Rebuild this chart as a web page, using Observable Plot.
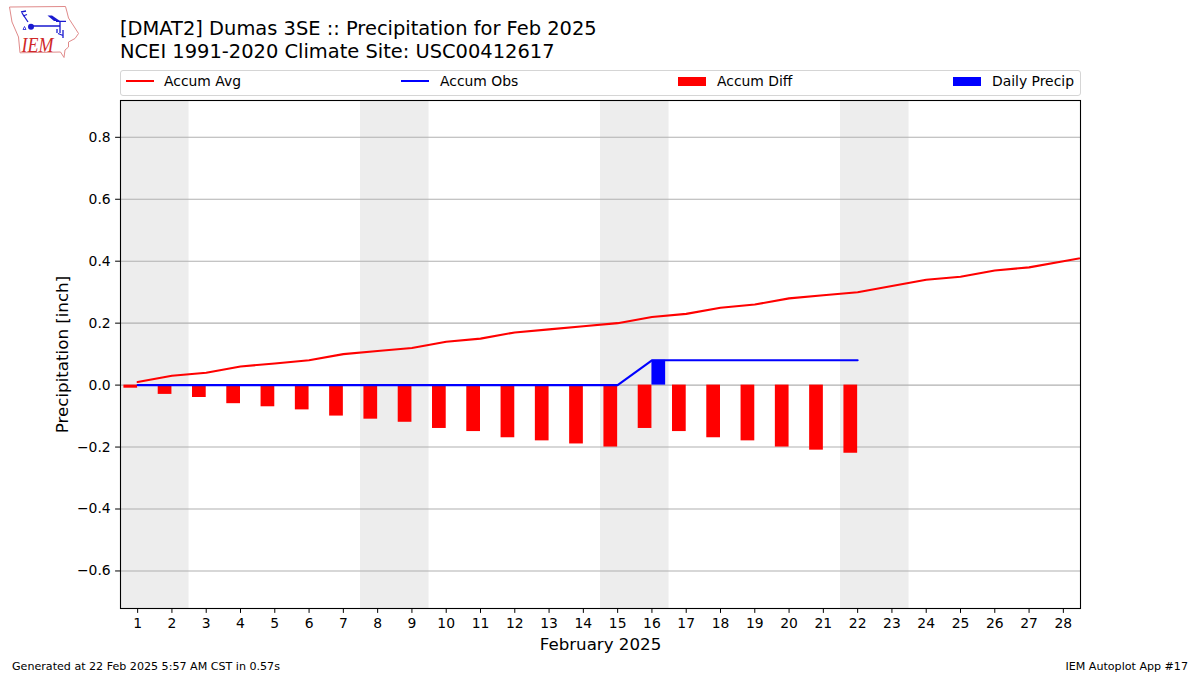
<!DOCTYPE html>
<html><head><meta charset="utf-8">
<script src="https://cdn.jsdelivr.net/npm/d3@7"></script>
<script src="https://cdn.jsdelivr.net/npm/@observablehq/plot@0.6"></script>
<style>
html,body{margin:0;padding:0;background:#fff;overflow:hidden}
body{width:1200px;height:675px;position:relative;font-family:"DejaVu Sans",sans-serif;color:#000}
#chart{position:absolute;left:0;top:0}
.abs{position:absolute;white-space:nowrap}
#title{left:120px;top:18px;font-size:19.45px;line-height:22.500px}
#legend{left:120px;top:70px;width:959px;height:24px;border:1px solid #d5d5d5;border-radius:3px;background:#fff}
.lt{font-size:13.9px;line-height:16px}
.ln{height:2px}.pt{height:9px}
.foot{font-size:11.1px;line-height:13px;top:660px}
</style></head><body>
<div id="chart"></div>
<svg class="abs" style="left:0;top:0" width="90" height="62">
  <path d="M9.500 7L65.500 6.500L67 12L68.500 18L75 28L78.500 33.500L75 38.500L68.500 42L68.500 47L65 50L64 57.500L60.500 52L20 52.800L18.500 37L12 22L10.500 13Z" fill="none" stroke="#e08a8a" stroke-width="1"/>
  <g stroke="#1a1ad0" fill="#1a1ad0">
    <path d="M31 26H60M56 21.300H66M60 21V33M22 13L28 22M21 12L26 11M23 16L27 14.500" fill="none" stroke-width="1.300"/>
    <path d="M47.500 15.500L52 15.500L60 21L54 21Z" stroke="none"/>
    <circle cx="31" cy="26.700" r="3" stroke="none"/>
    <path d="M57 29V33M63 30V38M58 33.500L63 35.500" fill="none" stroke-width="1.300"/>
    <path d="M23 29.500l1.500 -3l1.500 3Z" fill="none" stroke-width="0.800"/>
  </g>
  <text x="21.500" y="52" textLength="32" lengthAdjust="spacingAndGlyphs" font-family="Liberation Serif" font-style="italic" font-size="21" fill="#d02828">IEM</text>
</svg>
<div id="title" class="abs">[DMAT2] Dumas 3SE :: Precipitation for Feb 2025<br>NCEI 1991-2020 Climate Site: USC00412617</div>
<div id="legend" class="abs"></div>
<div class="abs foot" style="left:12px">Generated at 22 Feb 2025 5:57 AM CST in 0.57s</div>
<div class="abs foot" style="right:12px">IEM Autoplot App #17</div>
<script>
const days = d3.range(1, 29);
const accumAvg = [0.01,0.03,0.04,0.06,0.07,0.08,0.10,0.11,0.12,0.14,0.15,0.17,0.18,0.19,0.20,0.22,0.23,0.25,0.26,0.28,0.29,0.30,0.32,0.34,0.35,0.37,0.38,0.40,0.42];
const avgDays = [...days, 29];
const obsDays = days.slice(0, 22);
const accumObs = [0,0,0,0,0,0,0,0,0,0,0,0,0,0,0,0.08,0.08,0.08,0.08,0.08,0.08,0.08];
const accumDiff = [-0.01,-0.03,-0.04,-0.06,-0.07,-0.08,-0.10,-0.11,-0.12,-0.14,-0.15,-0.17,-0.18,-0.19,-0.20,-0.14,-0.15,-0.17,-0.18,-0.20,-0.21,-0.22];
const dailyDay = [16];
const dailyPrecip = [0.08];
const weekends = [[0.5,2.5],[7.5,9.5],[14.5,16.5],[21.5,23.5]];
const yTicks = [-0.6,-0.4,-0.2,0,0.2,0.4,0.6,0.8];
const yDomain = [-0.7212,0.9188];

const avgRows = avgDays.map((d,i)=>({d,v:accumAvg[i]}));
const obsRows = obsDays.map((d,i)=>({d,v:accumObs[i]}));
const diffRows = obsDays.map((d,i)=>({d,v:accumDiff[i]}));
const dailyRows = dailyDay.map((d,i)=>({d,v:dailyPrecip[i]}));

const plot = Plot.plot({
  width:1200, height:675,
  marginLeft:120, marginRight:120, marginTop:100, marginBottom:67,
  style:{fontFamily:'"DejaVu Sans",sans-serif',fontSize:"13.9px",color:"#000",background:"transparent"},
  x:{domain:[0.5,28.5]},
  y:{domain:yDomain},
  marks:[
    Plot.rect(weekends,{x1:d=>d[0],x2:d=>d[1],y1:yDomain[0],y2:yDomain[1],fill:"#ededed"}),
    Plot.ruleY(yTicks,{stroke:"#b0b0b0",strokeWidth:1.1}),
    Plot.rect(diffRows,{x1:d=>d.d-0.4,x2:d=>d.d,y1:0,y2:"v",fill:"#ff0000",clip:true}),
    Plot.rect(dailyRows,{x1:d=>d.d,x2:d=>d.d+0.4,y1:0,y2:"v",fill:"#0000ff"}),
    Plot.line(avgRows,{x:"d",y:"v",stroke:"#ff0000",strokeWidth:2.08,clip:true,curve:"linear"}),
    Plot.line(obsRows,{x:"d",y:"v",stroke:"#0000ff",strokeWidth:2.08,curve:"linear"}),
    Plot.frame({stroke:"#000",strokeWidth:1.1}),
    Plot.axisY(yTicks,{tickSize:4.9,tickPadding:4.9,tickFormat:".1f",label:"Precipitation [inch]",labelArrow:"none",labelAnchor:"center",labelOffset:64,fontSize:13.9,stroke:"#000",fill:"#000"}),
    Plot.axisX(days,{tickSize:4.9,tickPadding:4.9,tickFormat:"d",label:"February 2025",labelArrow:"none",labelAnchor:"center",labelOffset:41,fontSize:13.9,stroke:"#000",fill:"#000"})
  ]
});
document.getElementById("chart").append(plot);
plot.querySelectorAll('[aria-label="y-axis label"] text, [aria-label="x-axis label"] text').forEach(t=>t.setAttribute("font-size","16.67"));

const legendItems = [
  {label:"Accum Avg",cls:"ln",color:"#ff0000",x:5,tx:43},
  {label:"Accum Obs",cls:"ln",color:"#0000ff",x:280,tx:319},
  {label:"Accum Diff",cls:"pt",color:"#ff0000",x:557,tx:596},
  {label:"Daily Precip",cls:"pt",color:"#0000ff",x:832,tx:871}
];
const lg=document.getElementById("legend");
for(const it of legendItems){
  const k=document.createElement("div");
  k.className="abs "+it.cls;
  k.style.cssText=`left:${it.x}px;top:${it.cls==="ln"?9:6}px;width:28px;background:${it.color}`;
  lg.append(k);
  const t=document.createElement("div");
  t.className="abs lt";t.style.cssText=`left:${it.tx}px;top:2px`;t.textContent=it.label;
  lg.append(t);
}
</script>
</body></html>
